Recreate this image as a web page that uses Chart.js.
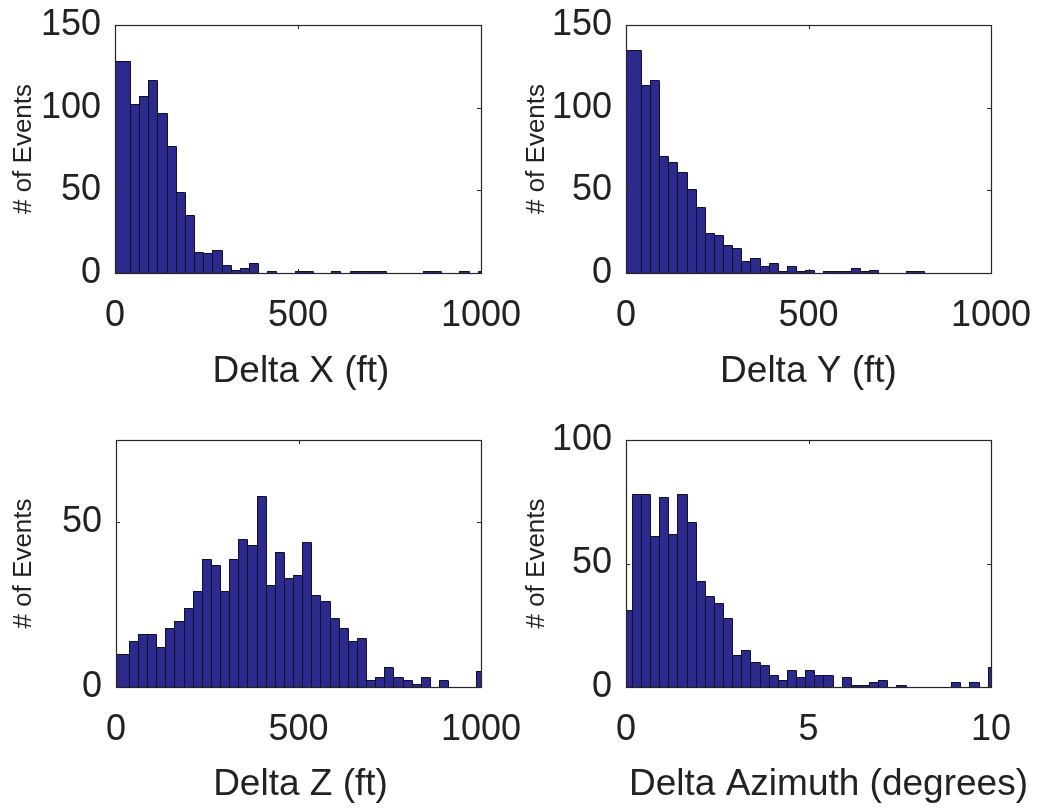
<!DOCTYPE html>
<html><head><meta charset="utf-8">
<script src="https://cdn.jsdelivr.net/npm/chart.js@4.4.1/dist/chart.umd.min.js"></script>
<style>
html,body{margin:0;padding:0;background:#fff;width:1039px;height:808px;overflow:hidden}
canvas{position:absolute}
</style></head><body>
<canvas id="c1"></canvas><canvas id="c2"></canvas><canvas id="c3"></canvas><canvas id="c4"></canvas>
<script>
// ---- data (histogram counts) ----
const deltaXFirstEdge = -9;      // ft, left edge of first bin
const deltaXBinWidth = 25;       // ft
const deltaXCounts = [128,128,102,107,117,97,77,49,35,13,12,14,5,2,3,6,0,1,0,0,1,1,0,0,1,0,1,1,1,1,0,0,0,0,1,1,0,0,1,0,1];

const deltaYFirstEdge = -9;
const deltaYBinWidth = 25;
const deltaYCounts = [135,135,114,117,71,67,61,51,40,24,23,17,15,7,9,4,6,1,4,1,2,0,1,1,1,3,1,2,0,0,0,1,1,0,0,0,0,0,0,0,0];

const deltaZFirstEdge = -15;
const deltaZBinWidth = 25;
const deltaZCounts = [10,10,14,16,16,12,18,20,24,29,39,37,29,39,45,43,58,31,41,33,34,44,28,26,21,18,14,15,2,3,6,3,2,1,3,0,2,0,0,0,5];

const deltaAzFirstEdge = -0.09;  // degrees
const deltaAzBinWidth = 0.25;
const deltaAzCounts = [31,78,78,61,77,62,78,67,43,37,34,28,13,15,10,9,5,3,7,4,7,5,5,0,4,1,1,2,3,0,1,0,0,0,0,0,2,0,2,0,8];

const ftTicks = [0, 500, 1000];
const degTicks = [0, 5, 10];
const countTicks150 = [0, 50, 100, 150];
const countTicks75 = [0, 50];
const countTicks100 = [0, 50, 100];

const xTitles = ['Delta X (ft)', 'Delta Y (ft)', 'Delta Z (ft)', 'Delta Azimuth (degrees)'];
const yTitle = '# of Events';

// ---- styling / layout ----
const FONT = '"Liberation Sans", Arial, Helvetica, sans-serif';
const TEXT = '#222222';
const BAR = '#2c2a8c';
const EDGE = '#10102e';

const panels = [
  {id:'c1', left:0,   top:0,   w:540, h:410, area:{l:115,t:25, r:481,b:273}, first:deltaXFirstEdge, bw:deltaXBinWidth, counts:deltaXCounts, xmax:1000, xticks:ftTicks, ymax:150, yticks:countTicks150, title:xTitles[0], titleOff:99, titleDx:3},
  {id:'c2', left:500, top:0,   w:539, h:410, area:{l:626,t:25, r:991,b:273}, first:deltaYFirstEdge, bw:deltaYBinWidth, counts:deltaYCounts, xmax:1000, xticks:ftTicks, ymax:150, yticks:countTicks150, title:xTitles[1], titleOff:99, titleDx:0},
  {id:'c3', left:0,   top:410, w:540, h:398, area:{l:116,t:440,r:481,b:687}, first:deltaZFirstEdge, bw:deltaZBinWidth, counts:deltaZCounts, xmax:1000, xticks:ftTicks, ymax:75,  yticks:countTicks75,  title:xTitles[2], titleOff:98, titleDx:2},
  {id:'c4', left:500, top:410, w:539, h:398, area:{l:626,t:440,r:991,b:687}, first:deltaAzFirstEdge, bw:deltaAzBinWidth, counts:deltaAzCounts, xmax:10, xticks:degTicks, ymax:100, yticks:countTicks100, title:xTitles[3], titleOff:98, titleDx:20},
];

// snap bar edges to whole pixels so adjacent bars share crisp edges
const snapPlugin = {
  id: 'snap',
  beforeDatasetsDraw(chart) {
    chart.getDatasetMeta(0).data.forEach(el => {
      const l = Math.round(el.x - el.width / 2), r = Math.round(el.x + el.width / 2);
      el.x = (l + r) / 2; el.width = r - l; el.y = Math.round(el.y); el.base = Math.round(el.base);
    });
  }
};

const framePlugin = {
  id: 'frame',
  afterDatasetsDraw(chart, args, opts) {
    const {ctx, chartArea: a, scales: {x, y}} = chart;
    const meta = chart.getDatasetMeta(0);
    const pts = chart.data.datasets[0].data;
    const bw = opts.bw;
    const mergesNext = i => pts[i + 1] !== undefined && (pts[i].x - bw / 2) < 0 && pts[i + 1].y === pts[i].y;
    // bar outlines
    ctx.save();
    ctx.beginPath(); ctx.rect(a.left, a.top, a.right - a.left, a.bottom - a.top); ctx.clip();
    ctx.strokeStyle = EDGE; ctx.lineWidth = 1;
    ctx.beginPath();
    meta.data.forEach((el, i) => {
      if (!pts[i].y) return;
      const l = Math.round(el.x - el.width / 2) + 0.5, r = Math.round(el.x + el.width / 2) + 0.5;
      const t = Math.round(el.y) + 0.5, b = Math.round(el.base);
      const skipLeft = i > 0 && mergesNext(i - 1), skipRight = mergesNext(i);
      if (skipLeft) ctx.moveTo(l, t); else { ctx.moveTo(l, b); ctx.lineTo(l, t); }
      ctx.lineTo(r, t);
      if (!skipRight) ctx.lineTo(r, b);
    });
    ctx.stroke();
    ctx.restore();

    // axes box and inward ticks
    ctx.save();
    ctx.strokeStyle = '#262626';
    ctx.lineWidth = 1.2;
    ctx.strokeRect(Math.round(a.left) + 0.5, Math.round(a.top) + 0.5, Math.round(a.right - a.left), Math.round(a.bottom - a.top));
    ctx.lineWidth = 1;
    const L = 4;
    ctx.beginPath();
    y.ticks.forEach(t => {
      const py = Math.round(y.getPixelForValue(t.value)) + 0.5;
      ctx.moveTo(a.left, py); ctx.lineTo(a.left + L, py);
      ctx.moveTo(a.right, py); ctx.lineTo(a.right - L, py);
    });
    x.ticks.forEach(t => {
      const px = Math.round(x.getPixelForValue(t.value)) + 0.5;
      ctx.moveTo(px, a.bottom); ctx.lineTo(px, a.bottom - L);
      ctx.moveTo(px, a.top); ctx.lineTo(px, a.top + L);
    });
    ctx.stroke();

    // x-axis title (drawn without width squeezing)
    ctx.fillStyle = TEXT;
    ctx.font = '37px ' + FONT;
    ctx.textAlign = 'center';
    ctx.textBaseline = 'middle';
    ctx.fillText(opts.title, (a.left + a.right) / 2 + opts.titleDx, a.bottom + opts.titleOff);
    ctx.restore();
  }
};

panels.forEach(p => {
  const cv = document.getElementById(p.id);
  cv.width = p.w; cv.height = p.h;
  cv.style.left = p.left + 'px'; cv.style.top = p.top + 'px';
  cv.style.width = p.w + 'px'; cv.style.height = p.h + 'px';

  const points = p.counts.map((c, i) => ({x: p.first + p.bw * (i + 0.5), y: c}));
  const zeroPad = s => { s.paddingLeft = 0; s.paddingRight = 0; s.paddingTop = 0; s.paddingBottom = 0; };

  new Chart(cv, {
    type: 'bar',
    data: {
      datasets: [{
        data: points,
        backgroundColor: BAR,
        borderWidth: 0,
        inflateAmount: 0,
        barPercentage: 1,
        categoryPercentage: 1,
        clip: 0
      }]
    },
    options: {
      responsive: false,
      animation: false,
      events: [],
      layout: {padding: {left: 0, bottom: 0, top: p.area.t - p.top, right: p.left + p.w - p.area.r}},
      plugins: {legend: {display: false}, tooltip: {enabled: false},
                frame: {bw: p.bw, title: p.title, titleOff: p.titleOff, titleDx: p.titleDx}},
      scales: {
        x: {
          type: 'linear', offset: false, min: 0, max: p.xmax,
          afterBuildTicks: s => { s.ticks = p.xticks.map(v => ({value: v})); },
          afterFit: s => { s.height = p.top + p.h - p.area.b; zeroPad(s); },
          grid: {display: false, drawTicks: false},
          border: {display: false},
          ticks: {padding: 21, color: TEXT, font: {family: FONT, size: 36}, maxRotation: 0, autoSkip: false, callback: v => String(v)},
          title: {display: false}
        },
        y: {
          min: 0, max: p.ymax,
          afterBuildTicks: s => { s.ticks = p.yticks.map(v => ({value: v})); },
          afterFit: s => { s.width = p.area.l - p.left; zeroPad(s); },
          grid: {display: false, drawTicks: false},
          border: {display: false},
          ticks: {padding: 14, color: TEXT, font: {family: FONT, size: 36}, callback: v => String(v)},
          title: {display: true, text: yTitle, color: TEXT, font: {family: FONT, size: 26}, padding: {top: p.left === 0 ? 8 : 21, bottom: 0}}
        }
      }
    },
    plugins: [snapPlugin, framePlugin]
  });
});
</script>
</body></html>
